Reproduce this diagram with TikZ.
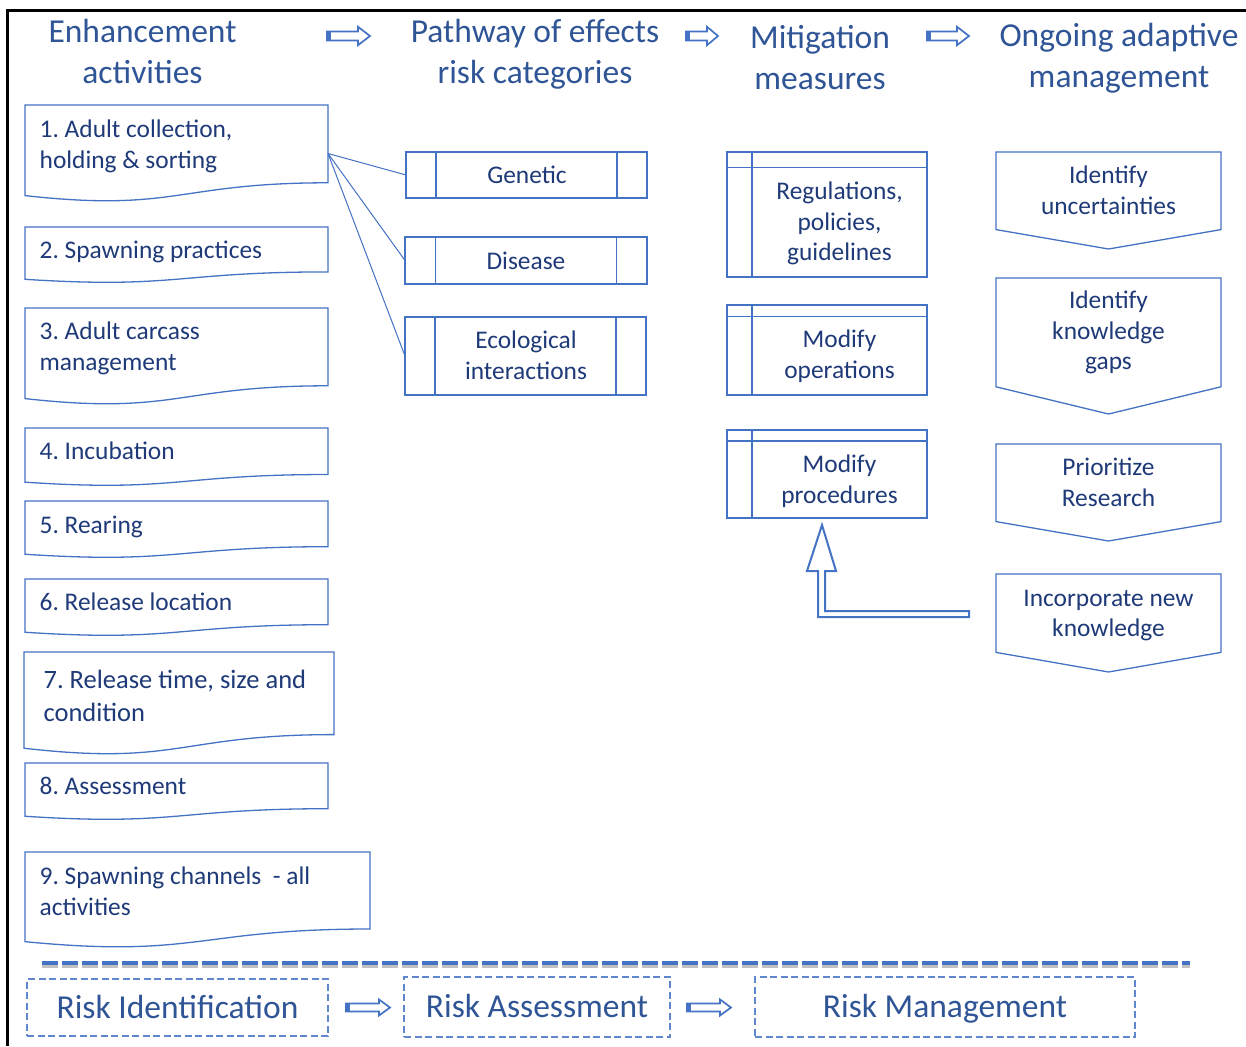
\documentclass[tikz,border=0pt]{standalone}
\usepackage{fontspec}
\setmainfont{Carlito}
\usetikzlibrary{calc}
\frenchspacing

\definecolor{lineblue}{HTML}{4472C4}
\definecolor{headblue}{HTML}{2F5597}
\definecolor{bodyblue}{HTML}{1F3A78}
\definecolor{shadegrey}{HTML}{BFBFBF}

\tikzset{
  area/.style={draw=none, inner sep=0pt, outer sep=0pt, anchor=north west},
  outline/.style={draw=lineblue, line width=1.3pt, line join=miter, fill=white},
  bodytext/.style={text=bodyblue, inner sep=0pt, font=\fontsize{25.4}{31}\selectfont},
  leftlabel/.style={bodytext, align=left, anchor=base west},
  midlabel/.style={bodytext, align=center, anchor=base, font=\fontsize{25.4}{30.7}\selectfont},
  heading/.style={text=headblue, inner sep=0pt, align=center, anchor=base, font=\fontsize{33.5}{41}\selectfont},
  link/.style={draw=lineblue, line width=1pt},
  hollow/.style={draw=lineblue, line width=1.7pt, fill=white, line join=miter},
  riskbox/.style={draw=lineblue!85, line width=1.1pt, dash pattern=on 7pt off 3.5pt,
    text=headblue, font=\fontsize{33.5}{41}\selectfont, text height=25pt, text depth=4pt,
    inner sep=0pt, outer sep=0pt},
}

% hollow block arrow: name, left x, right x, centre y, shaft half-height, head half-height, head length
\newcommand\blockarrow[7]{%
  \coordinate (#1) at ({(#2+#3)/2},#4);
  \draw[hollow] (#2,{#4-#5}) -- ({#3-#7},{#4-#5}) -- ({#3-#7},{#4-#6}) -- (#3,#4)
    -- ({#3-#7},{#4+#6}) -- ({#3-#7},{#4+#5}) -- (#2,{#4+#5}) -- cycle;
  \fill[lineblue] (#2,{#4-#5-0.8}) rectangle ({#2+3.5},{#4+#5+0.8});
}

% multi-line labels are placed by the baseline of their last line
\begin{document}
\begin{tikzpicture}[x=1pt, y=-1pt]
\useasboundingbox (0,0) rectangle (1246,1046);
\fill[white] (0,0) rectangle (1246,1046);

% frame along the top and left edges
\draw[black, line width=3pt] (7.5,1046) -- (7.5,10.5) -- (1246,10.5);

% column headings
\node[heading] (h1) at (142.5,84) {Enhancement\\activities};
\node[heading] (h2) at (535,84) {Pathway of effects\\risk categories};
\node[heading] (h3) at (820,90) {Mitigation\\measures};
\node[heading] (h4) at (1119,87.5) {Ongoing adaptive\\management};

\blockarrow{ha1}{327}{370}{36}{4.5}{9.2}{12}
\blockarrow{ha2}{686}{718}{36}{4.5}{9.2}{11}
\blockarrow{ha3}{927}{969}{36}{4.5}{9.2}{12}

% enhancement activities: document shapes with a wavy lower edge
\foreach \n/\xa/\xb/\ya/\h in {act1/25/328/105/97, act2/25/328/227/56, act3/25/328/308/97,
    act4/25/328/428/58, act5/25/328/501/57, act6/25/328/579/57, act7/24/334/652/103,
    act8/25/328/763/57, act9/25/370/852/96}{
  \node[area, minimum width={(\xb-\xa)*1pt}, minimum height={\h*1pt}] (\n) at (\xa,\ya) {};
  \draw[outline] (\xa,\ya) -- (\xb,\ya) -- (\xb,{\ya+0.802*\h})
    .. controls ({(\xa+\xb)/2},{\ya+0.802*\h}) and ({(\xa+\xb)/2},{\ya+1.1075*\h})
    .. (\xa,{\ya+0.934*\h}) -- cycle;
}
\node[leftlabel] (act1-t) at (39.5,168) {1. Adult collection,\\holding \& sorting};
\node[leftlabel] (act2-t) at (39.5,258) {2. Spawning practices};
\node[leftlabel] (act3-t) at (39.5,370) {3. Adult carcass\\management};
\node[leftlabel] (act4-t) at (39.5,459) {4. Incubation};
\node[leftlabel] (act5-t) at (39.5,533) {5. Rearing};
\node[leftlabel] (act6-t) at (39.5,610) {6. Release location};
\node[leftlabel, font=\fontsize{26.5}{33}\selectfont] (act7-t) at (43.4,721.5) {7. Release time, size and\\condition};
\node[leftlabel] (act8-t) at (39.5,794.5) {8. Assessment};
\node[leftlabel] (act9-t) at (39.5,915.5) {9. Spawning channels\ \ - all\\activities};

% risk categories: predefined-process boxes
\foreach \n/\xa/\xb/\ya/\yb in {gen/406/647/152/198, dis/405/647/237/284, eco/405/646/317/395}{
  \node[area, minimum width={(\xb-\xa)*1pt}, minimum height={(\yb-\ya)*1pt}] (\n) at (\xa,\ya) {};
  \draw[outline] (\n.north west) rectangle (\n.south east);
  \draw[outline] ($(\n.north west)!0.125!(\n.north east)$) -- ($(\n.south west)!0.125!(\n.south east)$);
  \draw[outline] ($(\n.north west)!0.875!(\n.north east)$) -- ($(\n.south west)!0.875!(\n.south east)$);
}
\node[midlabel] (gen-t) at (527,183.5) {Genetic};
\node[midlabel] (dis-t) at (526,269) {Disease};
\node[midlabel] (eco-t) at (526,379.2) {Ecological\\interactions};

\draw[link] (act1.east) -- (gen.west);
\draw[link] (act1.east) -- (dis.west);
\draw[link] (act1.east) -- (eco.west);

% mitigation measures: internal-storage boxes
\foreach \n/\xa/\xb/\ya/\yb in {reg/727/927/152/277, ops/727/927/305/395, proc/727/927/430/518}{
  \node[area, minimum width={(\xb-\xa)*1pt}, minimum height={(\yb-\ya)*1pt}] (\n) at (\xa,\ya) {};
  \draw[outline] (\n.north west) rectangle (\n.south east);
  \draw[outline] ($(\n.north west)!0.125!(\n.north east)$) -- ($(\n.south west)!0.125!(\n.south east)$);
  \draw[outline] ($(\n.north west)!0.125!(\n.south west)$) -- ($(\n.north east)!0.125!(\n.south east)$);
}
\node[midlabel] (reg-t) at (839.5,260.9) {Regulations,\\policies,\\guidelines};
\node[midlabel] (ops-t) at (839.5,378.2) {Modify\\operations};
\node[midlabel] (proc-t) at (839.5,503.2) {Modify\\procedures};

% adaptive management: off-page connector shapes
\foreach \n/\ya/\h in {unc/152/97, gaps/278/136, prio/444/97, inc/574/98}{
  \node[area, minimum width=225pt, minimum height={\h*1pt}] (\n) at (996,\ya) {};
  \draw[outline] (\n.north west) -- (\n.north east) -- ($(\n.north east)!0.8!(\n.south east)$)
    -- (\n.south) -- ($(\n.north west)!0.8!(\n.south west)$) -- cycle;
}
\node[midlabel] (unc-t) at (1108.5,214) {Identify\\uncertainties};
\node[midlabel] (gaps-t) at (1108.5,369.9) {Identify\\knowledge\\gaps};
\node[midlabel] (prio-t) at (1108.5,506.2) {Prioritize\\Research};
\node[midlabel] (inc-t) at (1108.5,636.7) {Incorporate new\\knowledge};

% bent feedback arrow from new knowledge back to procedures
\coordinate (fb-tip) at (822,525);
\coordinate (fb-tail) at (969,614);
\draw[draw=lineblue, line width=2pt, fill=white, line join=miter]
  (fb-tip) -- (836,571) -- (825,571) -- (825,611) -- (969,611) -- (969,617)
  -- (818,617) -- (818,571) -- (807,571) -- cycle;

% separator
\draw[shadegrey, line width=4.5pt, dash pattern=on 15.5pt off 4.5pt] (42,966) -- (1190,966);
\draw[lineblue, line width=4.5pt, dash pattern=on 15.5pt off 4.5pt] (42,963) -- (1190,963);

% risk process stages
\node[riskbox, minimum width=301pt, minimum height=57pt] (rid) at (177.5,1007.5) {Risk Identification};
\node[riskbox, minimum width=266pt, minimum height=60pt] (ras) at (537,1007) {Risk Assessment};
\node[riskbox, minimum width=380pt, minimum height=60pt] (rmg) at (945,1007) {Risk Management};

\blockarrow{ba1}{346}{390}{1007.5}{4}{8}{11}
\blockarrow{ba2}{687}{731}{1007.5}{4}{8}{11}
\end{tikzpicture}
\end{document}
